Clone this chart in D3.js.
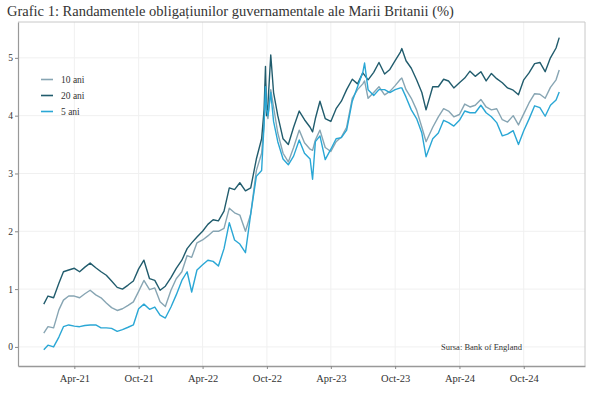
<!DOCTYPE html>
<html>
<head>
<meta charset="utf-8">
<script src="https://cdn.jsdelivr.net/npm/d3@7"></script>
<style>
  body { margin: 0; background: #fff; }
  text { font-family: "Liberation Serif", "DejaVu Serif", serif; fill: #333; }
</style>
</head>
<body>
<div id="chart"></div>
<script>
/* Grafic 1: randamentele obligatiunilor guvernamentale UK */

const dates = [
  "2021-01-04","2021-01-16","2021-02-01","2021-02-16","2021-03-01","2021-03-16",
  "2021-04-01","2021-04-16","2021-05-01","2021-05-16","2021-06-01","2021-06-16",
  "2021-07-01","2021-07-16","2021-08-01","2021-08-16","2021-09-01","2021-09-16",
  "2021-10-01","2021-10-16","2021-11-01","2021-11-16","2021-12-01","2021-12-16",
  "2022-01-01","2022-01-16","2022-02-01","2022-02-16","2022-03-01","2022-03-16",
  "2022-04-01","2022-04-16","2022-05-01","2022-05-16","2022-06-01","2022-06-16",
  "2022-07-01","2022-07-16","2022-08-01","2022-08-16","2022-09-01","2022-09-16",
  "2022-09-23","2022-09-27","2022-09-30","2022-10-04","2022-10-12","2022-10-20",
  "2022-11-01","2022-11-16","2022-12-01","2022-12-16","2023-01-01","2023-01-16",
  "2023-02-01","2023-02-08","2023-02-16","2023-03-01","2023-03-16","2023-04-01",
  "2023-04-16","2023-05-01","2023-05-16","2023-06-01","2023-06-16","2023-07-01",
  "2023-07-06","2023-07-16","2023-08-01","2023-08-16","2023-09-01","2023-09-16",
  "2023-10-01","2023-10-16","2023-10-20","2023-11-01","2023-11-16","2023-12-01",
  "2023-12-16","2023-12-28","2024-01-16","2024-02-01","2024-02-16","2024-03-01",
  "2024-03-16","2024-04-01","2024-04-16","2024-05-01","2024-05-16","2024-06-01",
  "2024-06-16","2024-07-01","2024-07-16","2024-08-01","2024-08-16","2024-09-01",
  "2024-09-16","2024-10-01","2024-10-16","2024-11-01","2024-11-16","2024-12-01",
  "2024-12-16","2025-01-01","2025-01-10"
];

const ani10 = [
  0.24,0.35,0.33,0.64,0.81,0.88, 0.88,0.85,0.92,0.98,0.90,0.85,
  0.76,0.68,0.63,0.66,0.72,0.78, 0.96,1.15,0.99,1.02,0.78,0.70,
  0.98,1.18,1.30,1.58,1.55,1.80, 1.85,1.92,2.00,2.00,2.05,2.40,
  2.32,2.28,2.00,2.30,3.05,3.35, 3.85,4.55,4.05,3.95,4.45,4.15,
  3.70,3.35,3.20,3.45,3.75,3.53, 3.42,3.40,3.58,3.75,3.45,3.38,
  3.55,3.63,3.80,4.30,4.45,4.55, 4.60,4.30,4.40,4.50,4.36,4.42,
  4.52,4.63,4.65,4.45,4.30,4.10, 3.80,3.55,3.80,3.98,4.12,4.08,
  3.98,4.02,4.20,4.15,4.18,4.28, 4.15,4.10,4.12,3.93,3.89,4.00,
  3.84,4.03,4.22,4.38,4.37,4.30, 4.49,4.62,4.79
];

const ani20 = [
  0.74,0.88,0.85,1.10,1.30,1.33, 1.36,1.30,1.38,1.45,1.37,1.30,
  1.24,1.14,1.03,1.00,1.07,1.14, 1.35,1.50,1.18,1.15,0.98,1.05,
  1.20,1.36,1.50,1.70,1.80,1.90, 2.00,2.12,2.20,2.18,2.35,2.75,
  2.72,2.84,2.70,2.75,3.25,3.60, 4.10,4.85,4.00,4.20,5.05,4.40,
  4.00,3.60,3.50,3.80,4.08,3.93, 3.80,3.72,3.95,4.25,3.95,3.90,
  4.12,4.25,4.45,4.63,4.55,4.74, 4.70,4.62,4.75,4.92,4.72,4.80,
  4.95,5.10,5.16,4.95,4.82,4.62, 4.40,4.10,4.50,4.50,4.63,4.60,
  4.48,4.57,4.65,4.77,4.68,4.76, 4.60,4.73,4.64,4.57,4.48,4.44,
  4.36,4.62,4.74,4.90,4.92,4.76, 5.00,5.17,5.35
];

const ani5 = [
  -0.05,0.03,0.00,0.17,0.35,0.38, 0.36,0.35,0.37,0.38,0.38,0.33,
  0.33,0.32,0.27,0.30,0.34,0.38, 0.66,0.74,0.65,0.69,0.55,0.50,
  0.69,0.90,1.15,1.30,0.95,1.33, 1.42,1.50,1.48,1.40,1.70,2.15,
  1.85,1.78,1.63,2.30,2.95,3.05, 3.85,4.50,4.10,4.00,4.40,3.90,
  3.55,3.25,3.15,3.30,3.58,3.35, 3.25,2.90,3.55,3.65,3.24,3.42,
  3.60,3.62,3.75,4.25,4.50,4.75, 4.91,4.45,4.35,4.45,4.45,4.40,
  4.45,4.48,4.48,4.32,4.10,3.95, 3.70,3.29,3.60,3.70,3.92,3.88,
  3.82,3.92,4.08,4.05,4.05,4.18, 4.05,3.98,3.88,3.65,3.68,3.74,
  3.50,3.74,3.94,4.17,4.14,3.99, 4.18,4.27,4.41
];

const seriesNames = ["10 ani", "20 ani", "5 ani"];
const colors = ["#87a5b3", "#215c6d", "#2aa7d5"];
const tickDates = ["2021-04-01","2021-10-01","2022-04-01","2022-10-01",
                   "2023-04-01","2023-10-01","2024-04-01","2024-10-01"];
const yTicks = [0, 1, 2, 3, 4, 5];

const width = 600,
      height = 398,
      margin = ({ top: 22, right: 15, bottom: 32, left: 18 });

const parse = d3.timeParse("%Y-%m-%d");
const dd = dates.map(parse);
const series = [ani10, ani20, ani5].map((vals, i) => ({
    name: seriesNames[i],
    color: colors[i],
    values: vals.map((v, j) => ({ date: dd[j], v: v }))
}));

let svg = d3.select("#chart")
    .append("svg")
    .attr("width", width)
    .attr("height", height);

// 5% padding on the date range, like the original
let ext = d3.extent(dd);
let pad = (ext[1] - ext[0]) * 0.05;
let x = d3.scaleTime()
    .domain([new Date(+ext[0] - pad), new Date(+ext[1] + pad)])
    .range([margin.left, width - margin.right]);

let y = d3.scaleLinear()
    .domain([-0.33, 5.62])
    .range([height - margin.bottom, margin.top]);

// grid
svg.append("g")
    .selectAll("line")
    .data(yTicks)
    .join("line")
    .attr("x1", margin.left).attr("x2", width - margin.right)
    .attr("y1", d => y(d)).attr("y2", d => y(d))
    .attr("stroke", "#f0f0f0");

svg.append("g")
    .selectAll("line")
    .data(tickDates.map(parse))
    .join("line")
    .attr("x1", d => x(d)).attr("x2", d => x(d))
    .attr("y1", margin.top).attr("y2", height - margin.bottom)
    .attr("stroke", "#f0f0f0");

// panel border (top, right)
svg.append("path")
    .attr("d", `M${margin.left},${margin.top}H${width - margin.right}V${height - margin.bottom}`)
    .attr("fill", "none")
    .attr("stroke", "#c8c8c8");

// lines
let line = d3.line()
    .x(d => x(d.date))
    .y(d => y(d.v));

svg.append("g")
    .selectAll("path")
    .data(series)
    .join("path")
    .attr("d", d => line(d.values))
    .attr("fill", "none")
    .attr("stroke", d => d.color)
    .attr("stroke-width", 1.4)
    .attr("stroke-linejoin", "round");

// axes
let xAxis = svg.append("g")
    .attr("transform", `translate(0,${height - margin.bottom})`)
    .call(d3.axisBottom(x)
        .tickValues(tickDates.map(parse))
        .tickFormat(d3.timeFormat("%b-%y"))
        .tickSize(3)
        .tickSizeOuter(0));
xAxis.select(".domain").attr("stroke", "#999").attr("stroke-width", 1.5);
xAxis.selectAll(".tick line").attr("stroke", "#888");
xAxis.selectAll("text")
    .attr("dy", "0.95em")
    .style("font-size", "10.5px")
    .style("fill", "#333");

let yAxis = svg.append("g")
    .attr("transform", `translate(${margin.left},0)`)
    .call(d3.axisLeft(y)
        .tickValues(yTicks)
        .tickFormat(d3.format("d"))
        .tickSize(3)
        .tickSizeOuter(0));
yAxis.select(".domain").attr("stroke", "#999").attr("stroke-width", 1.2);
yAxis.selectAll(".tick line").attr("stroke", "#888");
yAxis.selectAll("text")
    .attr("x", -5)
    .style("font-size", "9.5px")
    .style("fill", "#333");

// legend
let leg = svg.append("g")
    .selectAll("g")
    .data(series)
    .join("g")
    .attr("transform", (d, i) => `translate(41,${79.5 + i * 16})`);

leg.append("line")
    .attr("x1", 0).attr("x2", 12)
    .attr("stroke", d => d.color)
    .attr("stroke-width", 1.6);

leg.append("text")
    .attr("x", 20)
    .attr("dy", "0.35em")
    .style("font-size", "9.5px")
    .text(d => d.name);

// source note
svg.append("text")
    .attr("x", 441)
    .attr("y", 350)
    .style("font-size", "8.5px")
    .text("Sursa: Bank of England");

// title
svg.append("text")
    .attr("x", 7)
    .attr("y", 16)
    .style("font-size", "14.5px")
    .text("Grafic 1: Randamentele obligațiunilor guvernamentale ale Marii Britanii (%)");
</script>
</body>
</html>
